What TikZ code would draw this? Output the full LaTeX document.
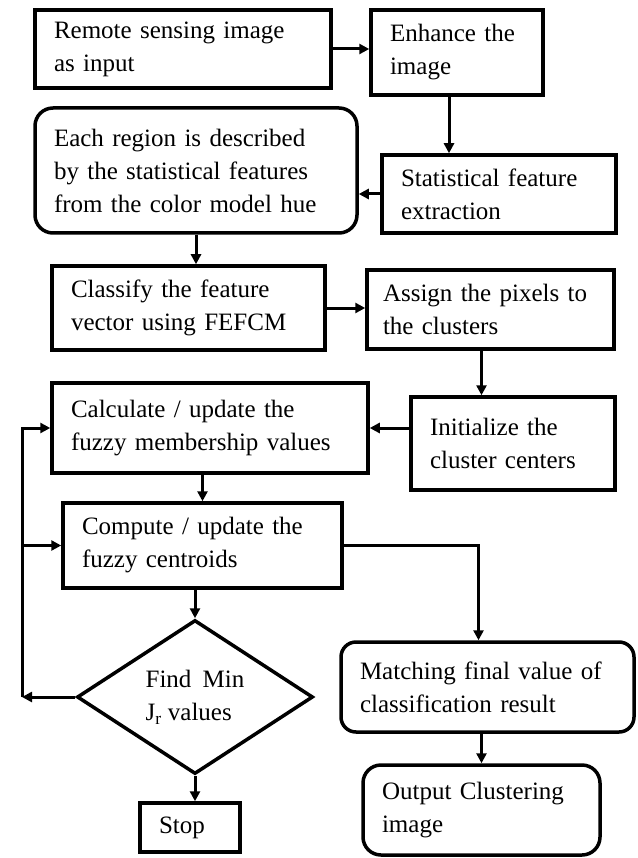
\documentclass[tikz,border=0pt]{standalone}
\usepackage{fontspec}
\setmainfont{Liberation Serif}
\usetikzlibrary{arrows.meta,positioning,shapes.geometric,calc}
\newcommand\boxfont{\fontsize{25}{33}\selectfont\spaceskip=0.45em\relax}

\begin{document}
\begin{tikzpicture}[x=1pt,y=-1pt,
  blk/.style={draw,line width=3.5pt,inner xsep=19pt,inner ysep=0pt,align=left,font=\boxfont},
  rblk/.style={blk,rounded corners=18pt},
  arr/.style={line width=3pt,-{Triangle[length=10pt,width=10pt]}}]
\useasboundingbox (0,0) rectangle (637,858);
\node[blk,text width=258pt,minimum height=78pt] (img) at (183,49){Remote sensing image\\as input};
\node[blk,text width=134pt,minimum height=85pt] (enh) at (457,52.5){Enhance the\\image};
\node[blk,text width=196pt,minimum height=78pt] (feat) at (499,194){Statistical feature\\extraction};
\node[rblk,text width=284pt,minimum height=125pt] (reg) at (196,170.5){Each region is described\\by the statistical features\\from the color model hue};
\node[blk,text width=235pt,minimum height=84pt] (cls) at (188.5,308){Classify the feature\\vector using FEFCM};
\node[blk,inner xsep=16pt,text width=215pt,minimum height=79pt] (asg) at (490.5,309.5){Assign the pixels to\\the clusters};
\node[blk,text width=166pt,minimum height=93pt] (ini) at (513,443.5){Initialize the\\cluster centers};
\node[blk,text width=278pt,minimum height=90pt] (cal) at (210,428){Calculate / update the\\fuzzy membership values};
\node[blk,text width=241pt,minimum height=85pt] (cmp) at (202.5,545.5){Compute / update the\\fuzzy centroids};
\node[blk,shape=diamond,inner xsep=0pt,minimum width=236pt,minimum height=154pt] (dec) at (195,697){Find Min\\J\textsubscript{r}\hspace{0.25em}values};
\node[blk,text width=62pt,minimum height=49pt] (stop) at (190,827.5){Stop};
\node[rblk,rounded corners=15pt,text width=255pt,minimum height=90pt] (mat) at (487.5,687){Matching final value of\\classification result};
\node[rblk,text width=199pt,minimum height=90pt] (out) at (481.5,810){Output Clustering\\image};
% connectors
\coordinate (back) at (22,697);
\coordinate (enhs) at ($(enh.south)+(-8,0)$);
\coordinate (asgs) at ($(asg.south)+(-9,0)$);
\coordinate (matn) at ($(mat.north)+(-9,0)$);
\draw[arr] (img.east) -- (img.east -| enh.west);
\draw[arr] (enhs) -- (enhs |- feat.north);
\draw[arr] (feat.west) -- (feat.west -| reg.east);
\draw[arr] (reg.south) -- (reg.south |- cls.north);
\draw[arr] (cls.east) -- (cls.east -| asg.west);
\draw[arr] (asgs) -- (asgs |- ini.north);
\draw[arr] (ini.west |- cal.east) -- (cal.east);
\draw[arr] (cmp.north |- cal.south) -- (cmp.north);
\draw[arr] (dec.north |- cmp.south) -- (dec.north);
\draw[arr] (dec.south) -- (dec.south |- stop.north);
\draw[arr] (dec.west) -- (back);
\draw[arr] (back) |- (cal.west);
\draw[arr] (back |- cmp.west) -- (cmp.west);
\draw[arr] (cmp.east) -| (matn);
\draw[arr] (out.north |- mat.south) -- (out.north);
\end{tikzpicture}
\end{document}
